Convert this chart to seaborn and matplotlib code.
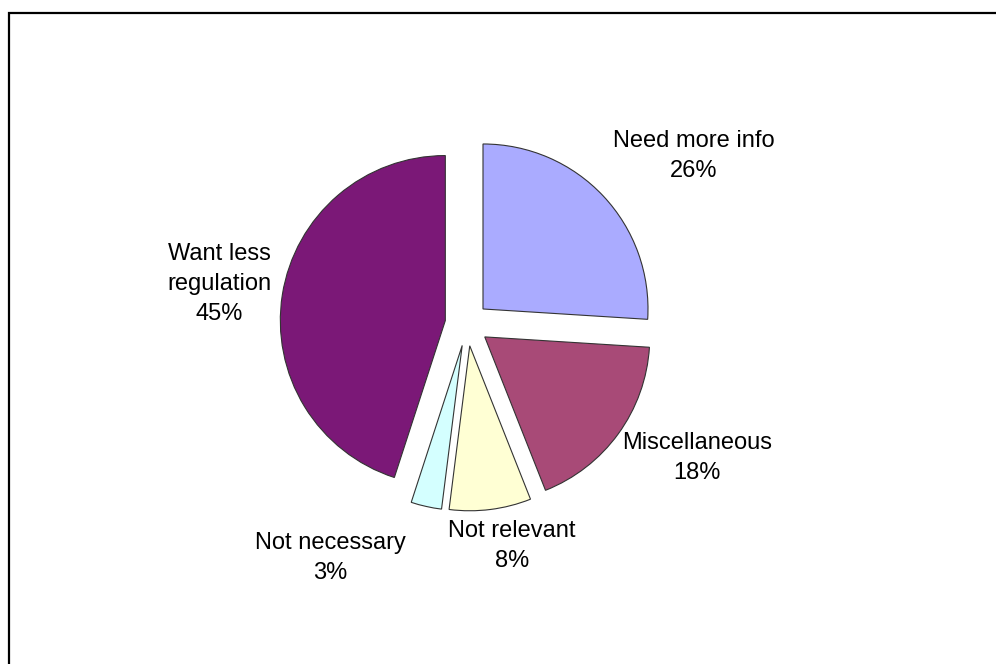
import matplotlib
matplotlib.use("Agg")
import matplotlib.pyplot as plt
import seaborn as sns
import numpy as np
from matplotlib.patches import Rectangle

# ---- data ----
categories = ["Need more info", "Miscellaneous", "Not relevant", "Not necessary", "Want less\nregulation"]
values = [26, 18, 8, 3, 45]
colors = ["#AAABFF", "#A84A77", "#FFFFD4", "#D4FFFF", "#7B1877"]

# ---- layout (label anchor positions in pie-radius units) ----
label_pos = [(1.376, 1.018), (1.394, -0.812), (0.273, -1.345), (-0.830, -1.418), (-1.503, 0.242)]

sns.set_theme(style="white")
plt.rcParams['font.family'] = ['Liberation Sans', 'DejaVu Sans']

W, H = 996, 664
fig = plt.figure(figsize=(W / 100, H / 100), dpi=100)
fig.patch.set_facecolor("white")

R = 165.0       # pie radius in px
cx, cy = 467.0, 324.0   # pie centre (px, from top-left)
half = 250.0
ax = fig.add_axes([(cx - half) / W, (H - cy - half) / H, 2 * half / W, 2 * half / H])
lim = half / R

wedges, _ = ax.pie(values, colors=colors, startangle=90, counterclock=False,
                   explode=[0.133] * len(values), radius=1.0,
                   wedgeprops=dict(edgecolor="#333333", linewidth=0.8))
ax.set_xlim(-lim, lim)
ax.set_ylim(-lim, lim)
ax.set_aspect("auto")
ax.axis("off")

for cat, v, (x, y) in zip(categories, values, label_pos):
    ax.text(x, y, f"{cat}\n{v}%", ha="center", va="center", fontsize=17,
            linespacing=1.45, color="black")

# outer frame (only top & left visible in the reference)
fig.add_artist(Rectangle((8.5 / W, -0.05), 1.2, (H - 12.5) / H + 0.05,
                         transform=fig.transFigure, fill=False,
                         edgecolor="black", linewidth=1.6, clip_on=False))

fig.savefig("out.png", dpi=100, facecolor="white")
